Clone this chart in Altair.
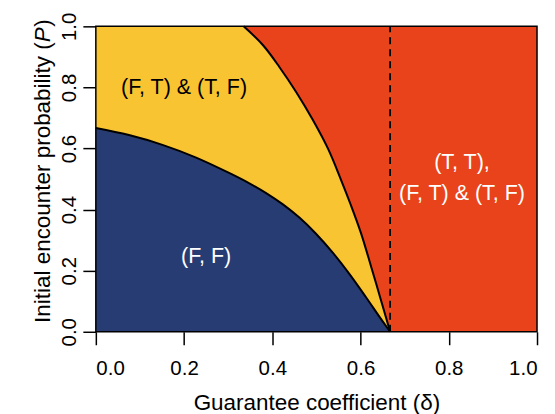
import altair as alt
import pandas as pd

# ---- data ----
tick_values = [0.0, 0.2, 0.4, 0.6, 0.8, 1.0]

blue_delta = [0.0, 0.075, 0.151, 0.226, 0.302, 0.348, 0.386, 0.424, 0.462, 0.499, 0.537, 0.575, 0.612, 0.643, 0.667]
blue_p = [0.667, 0.644, 0.612, 0.571, 0.520, 0.486, 0.454, 0.417, 0.373, 0.321, 0.259, 0.189, 0.114, 0.049, 0.0]

yellow_delta = [0.335, 0.379, 0.416, 0.454, 0.492, 0.527, 0.555, 0.578, 0.601, 0.624, 0.645, 0.667]
yellow_p = [1.0, 0.938, 0.867, 0.785, 0.693, 0.597, 0.500, 0.415, 0.323, 0.213, 0.110, 0.0]

threshold_delta = [0.667]

label_text = ["(F, T) & (T, F)", "(F, F)", "(T, T),", "(F, T) & (T, F)"]
label_delta = [0.20, 0.25, 0.83, 0.83]
label_p = [0.797, 0.246, 0.552, 0.451]
label_color = ["black", "white", "white", "white"]

title_parts = ["Initial encounter probability (", "P", ")"]

FONT = "Liberation Sans"
NAVY = "#283c74"
YELLOW = "#f9c432"
RED = "#e8431a"

blue_df = pd.DataFrame({"d": blue_delta, "p": blue_p})
yellow_df = pd.DataFrame({"d": yellow_delta, "p": yellow_p})
full_df = pd.DataFrame({"d0": [tick_values[0]], "d1": [tick_values[-1]],
                        "p0": [tick_values[0]], "p1": [tick_values[-1]]})
red_df = pd.DataFrame({"d0": threshold_delta, "d1": [tick_values[-1]],
                       "p0": [tick_values[0]], "p1": [tick_values[-1]]})
thr_df = pd.DataFrame({"d": threshold_delta, "p0": [0.0], "p1": [1.0]})
lab_df = pd.DataFrame({"d": label_delta, "p": label_p, "t": label_text, "c": label_color})
tdf = pd.DataFrame({"t": title_parts})

xscale = alt.Scale(domain=[0, 1], nice=False, zero=False)
yscale = alt.Scale(domain=[0, 1], nice=False, zero=False)

xaxis = alt.Axis(values=tick_values, format=".1f", title="Guarantee coefficient (δ)",
                 labelPadding=14, titleY=78, titleBaseline="alphabetic")
yaxis = alt.Axis(values=tick_values, format=".1f", title=None, labelAngle=270,
                 labelAlign="center", labelBaseline="bottom", labelPadding=3)

INTERP = "catmull-rom"


def X(f):
    return alt.X(f, type="quantitative", scale=xscale, axis=xaxis)


def Y(f):
    return alt.Y(f, type="quantitative", scale=yscale, axis=yaxis)


bg = alt.Chart(full_df).mark_rect(color=YELLOW).encode(
    x=X("d0"), x2="d1", y=Y("p0"), y2="p1")

red_rect = alt.Chart(red_df).mark_rect(color=RED).encode(
    x=X("d0"), x2="d1", y=Y("p0"), y2="p1")

red_area = alt.Chart(yellow_df).mark_area(color=RED, interpolate=INTERP).encode(
    x=X("d"), y=Y("p"), y2=alt.datum(1))

barea = alt.Chart(blue_df).mark_area(color=NAVY, interpolate=INTERP).encode(
    x=X("d"), y=Y("p"), y2=alt.datum(0))

yline = alt.Chart(yellow_df).mark_line(color="black", strokeWidth=2, interpolate=INTERP).encode(
    x=X("d"), y=Y("p"))

bline = alt.Chart(blue_df).mark_line(color="black", strokeWidth=2, interpolate=INTERP).encode(
    x=X("d"), y=Y("p"))

thr = alt.Chart(thr_df).mark_rule(color="black", strokeWidth=1.8, strokeDash=[7, 5]).encode(
    x=X("d"), y=Y("p0"), y2="p1")

labels = alt.Chart(lab_df).mark_text(font=FONT, fontSize=21.5, baseline="middle", align="center").encode(
    x=X("d"), y=Y("p"), text="t:N", color=alt.Color("c:N", scale=None))

frame = alt.Chart(full_df).mark_rect(fillOpacity=0, stroke="black", strokeWidth=1.5).encode(
    x=X("d0"), x2="d1", y=Y("p0"), y2="p1")

TS = 22.5
t1 = alt.Chart(tdf.iloc[[0]]).mark_text(font=FONT, fontSize=TS, angle=270, align="right",
                                         baseline="middle").encode(
    x=alt.value(-53), y=alt.value(16), text="t:N")
t2 = alt.Chart(tdf.iloc[[1]]).mark_text(font=FONT, fontSize=TS, angle=270, align="left",
                                         baseline="middle", fontStyle="italic").encode(
    x=alt.value(-53), y=alt.value(16), text="t:N")
t3 = alt.Chart(tdf.iloc[[2]]).mark_text(font=FONT, fontSize=TS, angle=270, align="left",
                                         baseline="middle").encode(
    x=alt.value(-53), y=alt.value(0.5), text="t:N")

chart = alt.layer(bg, red_rect, red_area, barea, yline, bline, thr, labels, frame, t1, t2, t3).properties(
    width=442, height=306,
    autosize=alt.AutoSizeParams(type="none"),
    padding={"left": 88, "top": 18, "right": 10, "bottom": 82},
).configure_view(strokeWidth=0).configure_axis(
    labelFont=FONT, labelFontSize=20.5, labelColor="black",
    titleFont=FONT, titleFontSize=TS, titleFontWeight="normal", titleColor="black",
    tickColor="black", tickSize=13, tickWidth=1.5, domain=False, grid=False,
)

chart.save("out.html", embed_options={"renderer": "svg", "actions": False})
